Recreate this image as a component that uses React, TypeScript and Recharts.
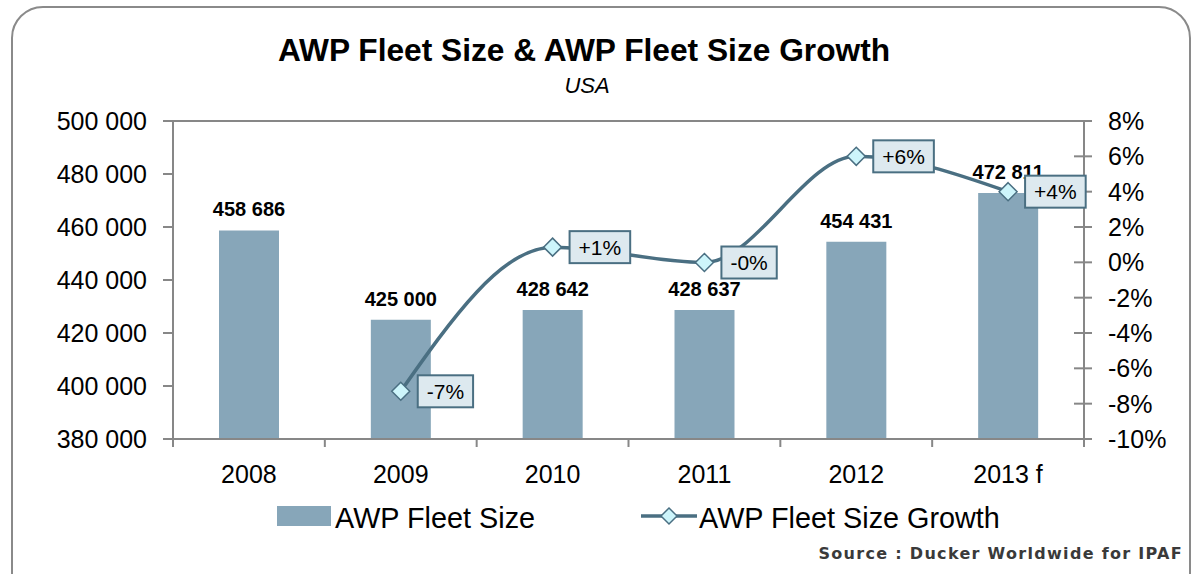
import React from 'react';
import {
  ComposedChart,
  Bar,
  Line,
  XAxis,
  YAxis,
  LabelList,
  ReferenceLine,
} from 'recharts';

const years = ['2008', '2009', '2010', '2011', '2012', '2013 f'];
const fleetSize = [458686, 425000, 428642, 428637, 454431, 472811];
const fleetGrowth = [null, -7.3, 0.86, -0.01, 6.0, 4.0];
const growthLabels = ['', '-7%', '+1%', '-0%', '+6%', '+4%'];
const sizeTicks = [380000, 400000, 420000, 440000, 460000, 480000, 500000];
const growthTicks = [-10, -8, -6, -4, -2, 0, 2, 4, 6, 8];

const data = years.map((year, i) => ({
  year,
  size: fleetSize[i],
  growth: fleetGrowth[i],
  growthLabel: growthLabels[i],
}));

const W = 1193;
const H = 574;
const LEFT_W = 173;
const RIGHT_W = 109;
const BAND = (W - LEFT_W - RIGHT_W) / years.length;

const FONT = '"Liberation Sans", Arial, sans-serif';
const AXIS = '#878787';
const BAR = '#87a6b9';
const LINE = '#4a6f82';
const DOT = '#cdf5fb';
const BOX = '#dde9ef';

const fmtThousands = (v: number) => String(v).replace(/\B(?=(\d{3})+(?!\d))/g, ' ');

const charW: Record<string, number> = { '+': 0.584, '-': 0.333, '%': 0.889 };
const textEm = (s: string) => s.split('').reduce((a, c) => a + (charW[c] ?? 0.556), 0);

const Diamond = (props: any) => {
  const { cx, cy, index } = props;
  if (cx == null || cy == null) return <g key={`d${index}`} />;
  const r = 9;
  return (
    <polygon
      key={`d${index}`}
      points={`${cx},${cy - r} ${cx + r},${cy} ${cx},${cy + r} ${cx - r},${cy}`}
      fill={DOT}
      stroke={LINE}
      strokeWidth={1.5}
    />
  );
};

const GrowthLabel = (props: any) => {
  const { x, y, value } = props;
  if (!value || x == null || y == null) return null;
  const fs = 21;
  const w = textEm(String(value)) * fs + 18;
  const left = x + 17;
  return (
    <g>
      <rect x={left} y={y - 16} width={w} height={32} fill={BOX} stroke={LINE} strokeWidth={2} />
      <text x={left + w / 2} y={y} dy="0.36em" textAnchor="middle" fontSize={fs} fontFamily={FONT} fill="#000">
        {value}
      </text>
    </g>
  );
};

const XTick = (props: any) => {
  const { x, y, payload, index } = props;
  const last = index === years.length - 1;
  return (
    <g>
      <line x1={x - BAND / 2} x2={x - BAND / 2} y1={y} y2={y + 8} stroke={AXIS} strokeWidth={2} />
      {last && <line x1={x + BAND / 2} x2={x + BAND / 2} y1={y} y2={y + 8} stroke={AXIS} strokeWidth={2} />}
      <text x={x} y={y + 44} textAnchor="middle" fontSize={25} fontFamily={FONT} fill="#000">
        {payload.value}
      </text>
    </g>
  );
};

const RightTick = (props: any) => {
  const { x, y, payload } = props;
  return (
    <g>
      <line x1={x - 34} x2={x - 16} y1={y} y2={y} stroke={AXIS} strokeWidth={2} />
      <text x={x} y={y} dy="0.36em" fontSize={25} fontFamily={FONT} fill="#000">
        {payload.value}%
      </text>
    </g>
  );
};

export default function App() {
  return (
    <div style={{ position: 'absolute', left: 0, top: 0, width: W, height: H, overflow: 'hidden', background: '#fff' }}>
      <div
        style={{
          position: 'absolute',
          left: 11,
          top: 6,
          width: 1176,
          height: 620,
          border: '2px solid #8a8a8a',
          borderRadius: 32,
        }}
      />
      <ComposedChart
        width={W}
        height={H}
        data={data}
        margin={{ top: 121, right: 0, bottom: 85, left: 0 }}
        style={{ position: 'absolute', left: 0, top: 0 }}
      >
        <XAxis
          dataKey="year"
          height={50}
          axisLine={{ stroke: AXIS, strokeWidth: 2 }}
          tickLine={false}
          tickSize={0}
          tickMargin={0}
          tick={<XTick />}
          interval={0}
        />
        <YAxis
          yAxisId="left"
          width={LEFT_W}
          domain={[380000, 500000]}
          ticks={sizeTicks}
          tickFormatter={fmtThousands}
          axisLine={{ stroke: AXIS, strokeWidth: 2 }}
          tickLine={{ stroke: AXIS, strokeWidth: 2 }}
          tickSize={10}
          tickMargin={16}
          tick={{ fontSize: 25, fontFamily: FONT, fill: '#000' }}
          allowDataOverflow
        />
        <YAxis
          yAxisId="right"
          orientation="right"
          width={RIGHT_W}
          domain={[-10, 8]}
          ticks={growthTicks}
          axisLine={{ stroke: AXIS, strokeWidth: 2 }}
          tickLine={false}
          tickSize={0}
          tickMargin={24}
          tick={<RightTick />}
          allowDataOverflow
        />
        <ReferenceLine yAxisId="left" y={500000} stroke={AXIS} strokeWidth={2} />
        <Bar yAxisId="left" dataKey="size" fill={BAR} barSize={60} isAnimationActive={false}>
          <LabelList
            dataKey="size"
            position="top"
            offset={14}
            formatter={(v: any) => fmtThousands(Number(v))}
            style={{ fontSize: 20, fontWeight: 'bold', fontFamily: FONT, fill: '#000' }}
          />
        </Bar>
        <Line
          yAxisId="right"
          type="monotone"
          dataKey="growth"
          stroke={LINE}
          strokeWidth={3.5}
          dot={<Diamond />}
          activeDot={false}
          isAnimationActive={false}
        >
          <LabelList dataKey="growthLabel" content={<GrowthLabel />} />
        </Line>
      </ComposedChart>
      <svg width={W} height={H} style={{ position: 'absolute', left: 0, top: 0, pointerEvents: 'none' }}>
        <text x={584} y={61} textAnchor="middle" fontSize={31.7} fontWeight="bold" fontFamily={FONT} fill="#000">
          AWP Fleet Size &amp; AWP Fleet Size Growth
        </text>
        <text x={587} y={93} textAnchor="middle" fontSize={22} fontStyle="italic" fontFamily={FONT} fill="#000">
          USA
        </text>
        <rect x={277} y={506} width={54} height={20} fill={BAR} />
        <text x={335} y={528} fontSize={28.8} fontFamily={FONT} fill="#000">
          AWP Fleet Size
        </text>
        <line x1={641} x2={697} y1={516} y2={516} stroke={LINE} strokeWidth={3.5} />
        <polygon points="669,508 677,516 669,524 661,516" fill={DOT} stroke={LINE} strokeWidth={1.5} />
        <text x={699} y={528} fontSize={28.8} fontFamily={FONT} fill="#000">
          AWP Fleet Size Growth
        </text>
        <text
          x={1183}
          y={559}
          textAnchor="end"
          fontSize={16}
          fontWeight="bold"
          fontFamily='"DejaVu Sans", sans-serif'
          letterSpacing={1.3}
          fill="#3a3a3a"
        >
          Source : Ducker Worldwide for IPAF
        </text>
      </svg>
    </div>
  );
}
